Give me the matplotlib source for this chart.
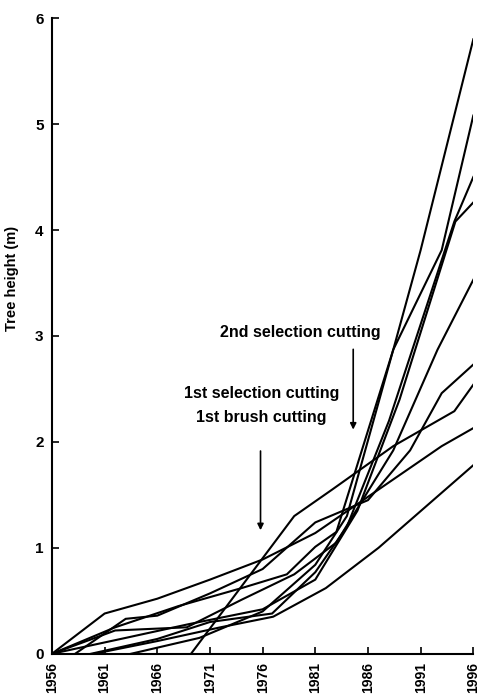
import matplotlib.pyplot as plt

# ---- data ----
t1_years = [1956, 1961, 1966, 1971, 1976, 1981, 1987, 1993, 1996]
t1_h     = [0, 0.38, 0.52, 0.70, 0.89, 1.14, 1.55, 1.96, 2.13]
t2_years = [1969.2, 1979, 1982.6, 1988.4, 1994.2, 1996]
t2_h     = [0, 1.30, 1.55, 1.96, 2.29, 2.54]
t3_years = [1958.2, 1963, 1966, 1971, 1976, 1981, 1986, 1990, 1993, 1996]
t3_h     = [0, 0.33, 0.36, 0.57, 0.80, 1.24, 1.45, 1.92, 2.46, 2.73]
t4_years = [1960, 1966, 1972, 1977, 1982, 1987, 1996]
t4_h     = [0, 0.12, 0.25, 0.35, 0.62, 1.00, 1.78]
t5_years = [1956, 1962, 1968.8, 1974, 1979, 1983, 1988.4, 1992.6, 1996]
t5_h     = [0, 0.22, 0.25, 0.51, 0.75, 1.05, 1.92, 2.87, 3.53]
t6_years = [1956, 1963, 1969, 1976, 1981, 1985, 1989, 1994.3, 1996]
t6_h     = [0, 0.15, 0.28, 0.42, 0.70, 1.35, 2.40, 4.08, 4.26]
t7_years = [1959.7, 1966, 1971, 1976.9, 1981, 1984, 1988, 1994.2, 1996]
t7_h     = [0, 0.14, 0.30, 0.38, 0.77, 1.20, 2.20, 4.08, 4.50]
t8_years = [1956, 1962, 1968, 1974, 1978.3, 1981, 1983, 1988.4, 1993, 1996]
t8_h     = [0, 0.25, 0.45, 0.62, 0.75, 1.01, 1.15, 2.87, 3.81, 5.08]
t9_years = [1963.5, 1970, 1976, 1981, 1984, 1988.4, 1991, 1996]
t9_h     = [0, 0.15, 0.40, 0.84, 1.30, 2.87, 3.81, 5.80]

trees = [(t1_years, t1_h), (t2_years, t2_h), (t3_years, t3_h),
         (t4_years, t4_h), (t5_years, t5_h), (t6_years, t6_h),
         (t7_years, t7_h), (t8_years, t8_h), (t9_years, t9_h)]

x_ticks = [1956, 1961, 1966, 1971, 1976, 1981, 1986, 1991, 1996]
y_ticks = [0, 1, 2, 3, 4, 5, 6]

plt.rcParams['font.family'] = ['Liberation Sans', 'DejaVu Sans']
plt.rcParams['font.weight'] = 'bold'

fig = plt.figure(figsize=(4.81, 6.97), dpi=100)
ax = fig.add_axes([0.108, 0.062, 0.876, 0.912])

for yrs, h in trees:
    ax.plot(yrs, h, color='black', linewidth=1.5, solid_joinstyle='miter')

ax.set_xlim(1956, 1996)
ax.set_ylim(0, 6)
ax.set_xticks(x_ticks)
ax.set_xticklabels([str(v) for v in x_ticks], rotation=90, fontsize=10, fontweight='bold')
ax.set_yticks(y_ticks)
ax.set_yticklabels([str(v) for v in y_ticks], fontsize=11, fontweight='bold')
ax.tick_params(direction='in', length=5, width=1.2, pad=6)
ax.spines['top'].set_visible(False)
ax.spines['right'].set_visible(False)
ax.spines['left'].set_linewidth(1.5)
ax.spines['bottom'].set_linewidth(1.5)

ax.set_ylabel('Tree height (m)', fontsize=10.5, fontweight='bold')
ax.yaxis.set_label_coords(-0.078, 0.59)

# annotations
ax.text(1979.6, 3.03, '2nd selection cutting', ha='center', va='center',
        fontsize=11.5, fontweight='bold')
ax.text(1975.9, 2.46, '1st selection cutting', ha='center', va='center',
        fontsize=11.5, fontweight='bold')
ax.text(1975.9, 2.23, '1st brush cutting', ha='center', va='center',
        fontsize=11.5, fontweight='bold')
ax.annotate('', xy=(1984.6, 2.09), xytext=(1984.6, 2.90),
            arrowprops=dict(arrowstyle='-|>', lw=1.2, color='black',
                            mutation_scale=9))
ax.annotate('', xy=(1975.8, 1.14), xytext=(1975.8, 1.94),
            arrowprops=dict(arrowstyle='-|>', lw=1.2, color='black',
                            mutation_scale=9))

fig.savefig('out.png', dpi=100)
